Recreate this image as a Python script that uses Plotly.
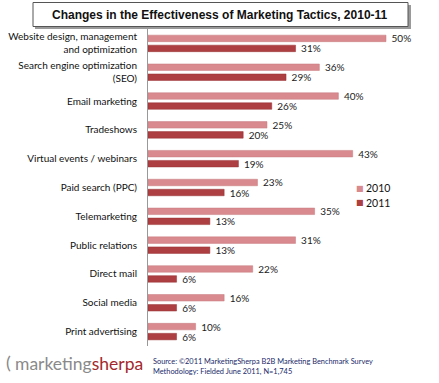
import plotly.graph_objects as go

categories = [
    "Website design, management<br>and optimization",
    "Search engine optimization<br>(SEO)",
    "Email marketing",
    "Tradeshows",
    "Virtual events / webinars",
    "Paid search (PPC)",
    "Telemarketing",
    "Public relations",
    "Direct mail",
    "Social media",
    "Print advertising",
]
values_2010 = [50, 36, 40, 25, 43, 23, 35, 31, 22, 16, 10]
values_2011 = [31, 29, 26, 20, 19, 16, 13, 13, 6, 6, 6]
series_names = ["2010", "2011"]
series_colors = ["#d98a8e", "#ad3e41"]
title_text = "Changes in the Effectiveness of Marketing Tactics, 2010-11"
source_lines = ["Source: ©2011 MarketingSherpa B2B Marketing Benchmark Survey",
                "Methodology: Fielded June 2011, N=1,745"]

W, H = 439, 383
L, R, T, B = 148, 9, 29, 37
PW, PH = W - L - R, H - T - B

def px(x):
    return (x - L) / PW

def py(y):
    return (H - B - y) / PH

FONT = "Lato, 'Open Sans', sans-serif"
NB = "\u00a0"

fig = go.Figure()
for name, vals, col, lc in [(series_names[0], values_2010, series_colors[0], "#c77a7e"),
                            (series_names[1], values_2011, series_colors[1], "#983234")]:
    fig.add_trace(go.Bar(
        y=categories, x=vals, orientation="h", name=name,
        marker=dict(color=col, line=dict(color=lc, width=0.5)),
        text=[f"{NB}{v}%" for v in vals], textposition="outside",
        constraintext="none",
        textfont=dict(size=10, color="#222", family=FONT), cliponaxis=False,
    ))

shapes = [
    dict(type="rect", xref="paper", yref="paper",
         x0=px(35), x1=px(411), y0=py(29), y1=py(5),
         fillcolor="#9a9a9a", line=dict(width=0), layer="below"),
    dict(type="rect", xref="paper", yref="paper",
         x0=px(33), x1=px(408), y0=py(26.5), y1=py(2.5),
         fillcolor="white", line=dict(color="#555", width=1), layer="below"),
]

annotations = [
    dict(text=f"<b>{title_text}</b>", xref="paper", yref="paper",
         x=px(220), y=py(15), xanchor="center", yanchor="middle", showarrow=False,
         font=dict(family="Arial, 'Liberation Sans', sans-serif", size=12, color="#111")),
    dict(text="<span style='color:#8a8a8a'>marketing</span><span style='color:#a3282c'>sherpa</span>",
         xref="paper", yref="paper", x=px(13), y=py(363), xanchor="left", yanchor="middle",
         showarrow=False, font=dict(family=FONT, size=17.5)),
    dict(text="(", xref="paper", yref="paper", x=px(4), y=py(362), xanchor="left", yanchor="middle",
         showarrow=False, font=dict(family=FONT, size=18, color="#888")),
    dict(text=source_lines[0] + "<br>" + source_lines[1], xref="paper", yref="paper",
         x=px(151), y=py(366), xanchor="left", yanchor="middle", align="left",
         showarrow=False, font=dict(family=FONT, size=7.4, color="#1a2a6a")),
]
for i, (name, col) in enumerate(zip(series_names, series_colors)):
    yy = 188 + 15 * i
    annotations.append(dict(text="■", xref="paper", yref="paper", x=px(354), y=py(yy),
                            xanchor="left", yanchor="middle", showarrow=False,
                            font=dict(family="DejaVu Sans", size=8, color=col)))
    annotations.append(dict(text=name, xref="paper", yref="paper", x=px(364), y=py(yy),
                            xanchor="left", yanchor="middle", showarrow=False,
                            font=dict(family=FONT, size=10.5, color="#111")))

fig.update_layout(
    width=W, height=H,
    margin=dict(l=L, r=R, t=T, b=B, pad=0, autoexpand=False),
    paper_bgcolor="white", plot_bgcolor="white",
    barmode="group", bargap=0.305, bargroupgap=0.35,
    showlegend=False,
    xaxis=dict(range=[0, PW / 4.76], visible=False, showgrid=False, automargin=False),
    yaxis=dict(autorange="reversed", showline=True, linecolor="#999", linewidth=1,
               ticks="", showgrid=False, ticklabelstandoff=8, automargin=False,
               tickfont=dict(family=FONT, size=10, color="#111")),
    shapes=shapes, annotations=annotations,
    font=dict(family=FONT),
)

fig.write_html("out.html", config={"displayModeBar": False},
               post_script="document.body.style.margin='0px';")
